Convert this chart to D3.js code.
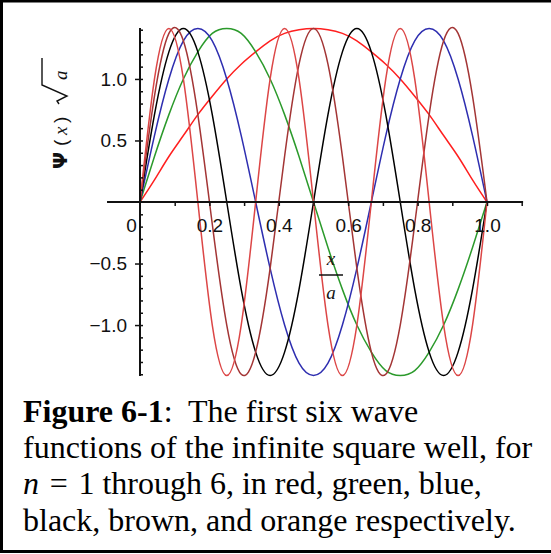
<!DOCTYPE html>
<html lang="en">
  <head>
    <meta charset="UTF-8" />
    <title>Infinite square well wave functions</title>
    <script src="https://d3js.org/d3.v7.min.js"></script>
    <style>
      body {
        margin: 0;
        background: #ffffff;
      }
      svg {
        display: block;
      }
      .tick-label {
        font-family: "Liberation Sans", Arial, sans-serif;
        font-size: 19px;
        fill: #111;
      }
      .var {
        font-family: "Liberation Serif", "Times New Roman", serif;
        font-style: italic;
        font-size: 19px;
        fill: #111;
      }
      .caption {
        font-family: "Liberation Serif", "Times New Roman", serif;
        font-size: 32px;
        fill: #000;
      }
    </style>
  </head>
  <body>
    <svg id="chart" width="551" height="554"></svg>

    <script>
      // x / a, sampled every 1/24
      const xs = [0, 0.0417, 0.0833, 0.125, 0.1667, 0.2083, 0.25, 0.2917, 0.3333, 0.375, 0.4167, 0.4583, 0.5,
        0.5417, 0.5833, 0.625, 0.6667, 0.7083, 0.75, 0.7917, 0.8333, 0.875, 0.9167, 0.9583, 1];

      // psi(x) * sqrt(a) for n = 1..6
      const psi1 = [0, 0.18, 0.37, 0.54, 0.71, 0.86, 1.0, 1.12, 1.22, 1.31, 1.37, 1.4, 1.41,
        1.4, 1.37, 1.31, 1.22, 1.12, 1.0, 0.86, 0.71, 0.54, 0.37, 0.18, 0];
      const psi2 = [0, 0.37, 0.71, 1.0, 1.22, 1.37, 1.41, 1.37, 1.22, 1.0, 0.71, 0.37, 0,
        -0.37, -0.71, -1.0, -1.22, -1.37, -1.41, -1.37, -1.22, -1.0, -0.71, -0.37, 0];
      const psi3 = [0, 0.54, 1.0, 1.31, 1.41, 1.31, 1.0, 0.54, 0, -0.54, -1.0, -1.31, -1.41,
        -1.31, -1.0, -0.54, 0, 0.54, 1.0, 1.31, 1.41, 1.31, 1.0, 0.54, 0];
      const psi4 = [0, 0.71, 1.22, 1.41, 1.22, 0.71, 0, -0.71, -1.22, -1.41, -1.22, -0.71, 0,
        0.71, 1.22, 1.41, 1.22, 0.71, 0, -0.71, -1.22, -1.41, -1.22, -0.71, 0];
      const psi5 = [0, 0.86, 1.37, 1.31, 0.71, -0.18, -1.0, -1.4, -1.22, -0.54, 0.37, 1.12, 1.41,
        1.12, 0.37, -0.54, -1.22, -1.4, -1.0, -0.18, 0.71, 1.31, 1.37, 0.86, 0];
      const psi6 = [0, 1.0, 1.41, 1.0, 0, -1.0, -1.41, -1.0, 0, 1.0, 1.41, 1.0, 0,
        -1.0, -1.41, -1.0, 0, 1.0, 1.41, 1.0, 0, -1.0, -1.41, -1.0, 0];

      const seriesValues = [psi1, psi2, psi3, psi4, psi5, psi6];
      const seriesColors = ["#ff1f1f", "#2b9a2b", "#2e2eb0", "#000000", "#a33535", "#dc4646"];

      const xTickValues = [0, 0.2, 0.4, 0.6, 0.8, 1.0];
      const xTickLabels = ["0", "0.2", "0.4", "0.6", "0.8", "1.0"];
      const xMinorTicks = [0.1, 0.2, 0.3, 0.4, 0.5, 0.6, 0.7, 0.8, 0.9, 1.0, 1.1];
      const yTickValues = [1.0, 0.5, -0.5, -1.0];
      const yTickLabels = ["1.0", "0.5", "\u22120.5", "\u22121.0"];
      const yMinorTicks = [-1.4, -1.3, -1.2, -1.1, -1.0, -0.9, -0.8, -0.7, -0.6, -0.5, -0.4, -0.3, -0.2, -0.1,
        0.1, 0.2, 0.3, 0.4, 0.5, 0.6, 0.7, 0.8, 0.9, 1.0, 1.1, 1.2, 1.3, 1.4];

      const captionLines = [
        [["Figure 6-1", "bold"], [":  The first six wave", "normal"]],
        [["functions of the infinite square well, for", "normal"]],
        [["n", "italic"], ["\u200a = \u200a1 through 6, in red, green, blue,", "normal"]],
        [["black, brown, and orange respectively.", "normal"]],
      ];

      const svg = d3.select("#chart");

      const x = d3.scaleLinear().domain([0, 1]).range([140, 487]);
      const y = d3.scaleLinear().domain([-1.414, 1.414]).range([376, 28]);

      // frame (right edge is cut off in the original)
      svg.append("path")
        .attr("d", "M551,1 H1.5 V551.5 H551")
        .attr("fill", "none")
        .attr("stroke", "#000")
        .attr("stroke-width", 3);

      // curves
      const line = d3.line()
        .x((d, i) => x(xs[i]))
        .y((d) => y(d))
        .curve(d3.curveNatural);

      svg.append("g")
        .selectAll("path")
        .data(seriesValues)
        .join("path")
        .attr("d", line)
        .attr("fill", "none")
        .attr("stroke", (d, i) => seriesColors[i])
        .attr("stroke-width", 1.5);

      // x axis
      svg.append("line")
        .attr("x1", x(-0.095)).attr("x2", x(1.104))
        .attr("y1", y(0)).attr("y2", y(0))
        .attr("stroke", "#111").attr("stroke-width", 2);

      const xMinor = svg.append("g")
        .attr("transform", `translate(0,${y(0)})`)
        .call(d3.axisBottom(x).tickValues(xMinorTicks).tickSize(4).tickFormat(""));
      xMinor.select(".domain").remove();
      xMinor.selectAll("line").attr("stroke", "#111").attr("stroke-width", 1.5);

      const xLabels = svg.append("g")
        .attr("transform", `translate(0,${y(0)})`)
        .call(d3.axisBottom(x).tickValues(xTickValues).tickSize(0).tickPadding(17)
          .tickFormat((d, i) => xTickLabels[i]));
      xLabels.select(".domain").remove();
      xLabels.selectAll("text")
        .attr("class", "tick-label")
        .attr("font-family", null)
        .attr("font-size", null)
        .attr("fill", null)
        .attr("x", (d) => (d === 0 ? -9 : 0));

      // y axis
      svg.append("line")
        .attr("x1", x(0)).attr("x2", x(0))
        .attr("y1", y(1.414)).attr("y2", y(-1.414))
        .attr("stroke", "#111").attr("stroke-width", 2);

      const yMinor = svg.append("g")
        .attr("transform", `translate(${x(0)},0)`)
        .call(d3.axisRight(y).tickValues(yMinorTicks).tickSize(3).tickFormat(""));
      yMinor.select(".domain").remove();
      yMinor.selectAll("line").attr("stroke", "#111").attr("stroke-width", 1.5);

      const yMajor = svg.append("g")
        .attr("transform", `translate(${x(0)},0)`)
        .call(d3.axisLeft(y).tickValues(yTickValues).tickSize(5).tickPadding(8)
          .tickFormat((d, i) => yTickLabels[i]));
      yMajor.select(".domain").remove();
      yMajor.selectAll("line").attr("stroke", "#111").attr("stroke-width", 1.5);
      yMajor.selectAll("text")
        .attr("class", "tick-label")
        .attr("font-family", null)
        .attr("font-size", null)
        .attr("fill", null);

      // y axis title: psi(x) sqrt(a), rotated
      const yTitle = svg.append("g").attr("transform", "translate(67,169) rotate(-90)");
      yTitle.append("text").attr("x", 0).attr("y", 0)
        .style("font-family", "'DejaVu Sans', sans-serif").style("font-size", "20px")
        .style("font-weight", "bold").style("fill", "#111").text("\u03a8");
      yTitle.append("text").attr("class", "tick-label").attr("x", 23).attr("y", 0).text("(");
      yTitle.append("text").attr("class", "var").attr("x", 34).attr("y", 0).text("x");
      yTitle.append("text").attr("class", "tick-label").attr("x", 46).attr("y", 0).text(")");
      yTitle.append("path")
        .attr("d", "M65,-8 L68,-10 L73,0 L84,-25 H111")
        .attr("fill", "none").attr("stroke", "#111").attr("stroke-width", 1.4);
      yTitle.append("text").attr("class", "var").attr("x", 89).attr("y", 0).text("a");

      // x axis title: x / a
      const xTitle = svg.append("g").attr("transform", "translate(331,0)");
      xTitle.append("text").attr("class", "var").attr("text-anchor", "middle").attr("y", 265).text("x");
      xTitle.append("line").attr("x1", -12).attr("x2", 12).attr("y1", 275).attr("y2", 275)
        .attr("stroke", "#111").attr("stroke-width", 1.5);
      xTitle.append("text").attr("class", "var").attr("text-anchor", "middle").attr("y", 299).text("a");

      // caption
      const caption = svg.append("text").attr("class", "caption").attr("xml:space", "preserve");
      captionLines.forEach((segs, li) => {
        segs.forEach((seg, si) => {
          const t = caption.append("tspan").text(seg[0]);
          if (si === 0) t.attr("x", 23).attr("y", 422 + li * 36.2);
          if (seg[1] === "bold") t.attr("font-weight", "bold");
          if (seg[1] === "italic") t.attr("font-style", "italic");
        });
      });
    </script>
  </body>
</html>
